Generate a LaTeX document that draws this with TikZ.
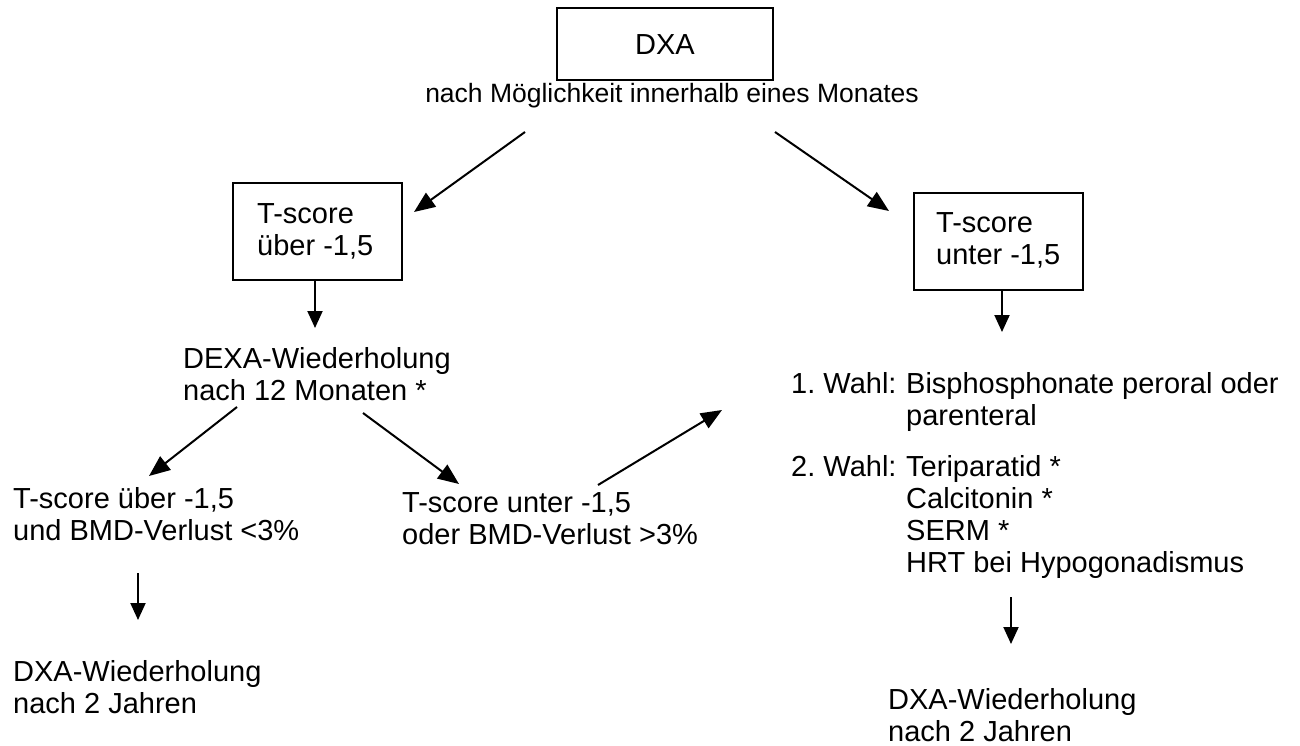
\documentclass[tikz,border=0pt]{standalone}
\usepackage{fontspec}
\setmainfont{Liberation Sans}
\frenchspacing
\usetikzlibrary{arrows.meta}
\tikzset{
  box/.style={draw, line width=2.4pt, minimum width=169pt, minimum height=97pt, inner sep=0pt},
  txt/.style={anchor=base west, inner sep=0pt, align=left, font=\fontsize{29}{32}\selectfont},
  arr/.style={line width=2pt, -{Triangle[length=17pt,width=15pt]}},
  darr/.style={line width=2pt, -{Triangle[length=21pt,width=17pt]}},
}
\begin{document}
\begin{tikzpicture}[x=1pt,y=-1pt]
\useasboundingbox (0,0) rectangle (1300,746);
% top
\node[draw, line width=2.4pt, minimum width=216pt, minimum height=72pt, inner sep=0pt] (dxa) at (665,44) {};
\node[anchor=base, inner sep=0pt, font=\fontsize{29}{32}\selectfont] (dxat) at (665,55) {DXA};
\node[anchor=base, inner sep=0pt, font=\fontsize{26.5}{30}\selectfont] (sub) at (672,103) {nach Möglichkeit innerhalb eines Monates};
% boxes
\node[box] (bl) at (317.5,231.5) {};
\node[txt] (blt) at (257,255) {T-score\\über -1,5};
\node[box] (br) at (998.5,241.5) {};
\node[txt] (brt) at (936,264) {T-score\\unter -1,5};
% texts (anchor = baseline of last line)
\node[txt] (dexa) at (183,400) {DEXA-Wiederholung\\nach 12 Monaten *};
\node[txt] (tl) at (13,540) {T-score über -1,5\\und BMD-Verlust <3\%};
\node[txt] (tr) at (402,544) {T-score unter -1,5\\oder BMD-Verlust >3\%};
\node[txt] (dl) at (13,713) {DXA-Wiederholung\\nach 2 Jahren};
\node[txt] (w1) at (791,393) {1. Wahl:};
\node[txt] (w1t) at (906,425) {Bisphosphonate peroral oder\\parenteral};
\node[txt] (w2) at (791,476) {2. Wahl:};
\node[txt] (w2t) at (906,572) {Teriparatid *\\Calcitonin *\\SERM *\\HRT bei Hypogonadismus};
\node[txt] (dr) at (888,741) {DXA-Wiederholung\\nach 2 Jahren};
% arrow coordinates
\coordinate (a1s) at (525,132);
\coordinate (a1e) at (414,212);
\coordinate (a2s) at (775,132);
\coordinate (a2e) at (889,211);
\coordinate (blend) at (315,328);
\coordinate (brend) at (1002,332);
\coordinate (l1s) at (237,407);
\coordinate (l1e) at (149,476);
\coordinate (l2s) at (363,413);
\coordinate (l2e) at (459,484);
\coordinate (us) at (598,485);
\coordinate (ue) at (722,410);
\coordinate (dls) at (138,573);
\coordinate (dle) at (138,620);
\coordinate (drs) at (1011,597);
\coordinate (dre) at (1011,644);
\draw[darr] (a1s) -- (a1e);
\draw[darr] (a2s) -- (a2e);
\draw[arr] (bl.south -| blend) -- (blend);
\draw[arr] (br.south -| brend) -- (brend);
\draw[darr] (l1s) -- (l1e);
\draw[darr] (l2s) -- (l2e);
\draw[darr] (us) -- (ue);
\draw[arr] (dls) -- (dle);
\draw[arr] (drs) -- (dre);
\end{tikzpicture}
\end{document}
